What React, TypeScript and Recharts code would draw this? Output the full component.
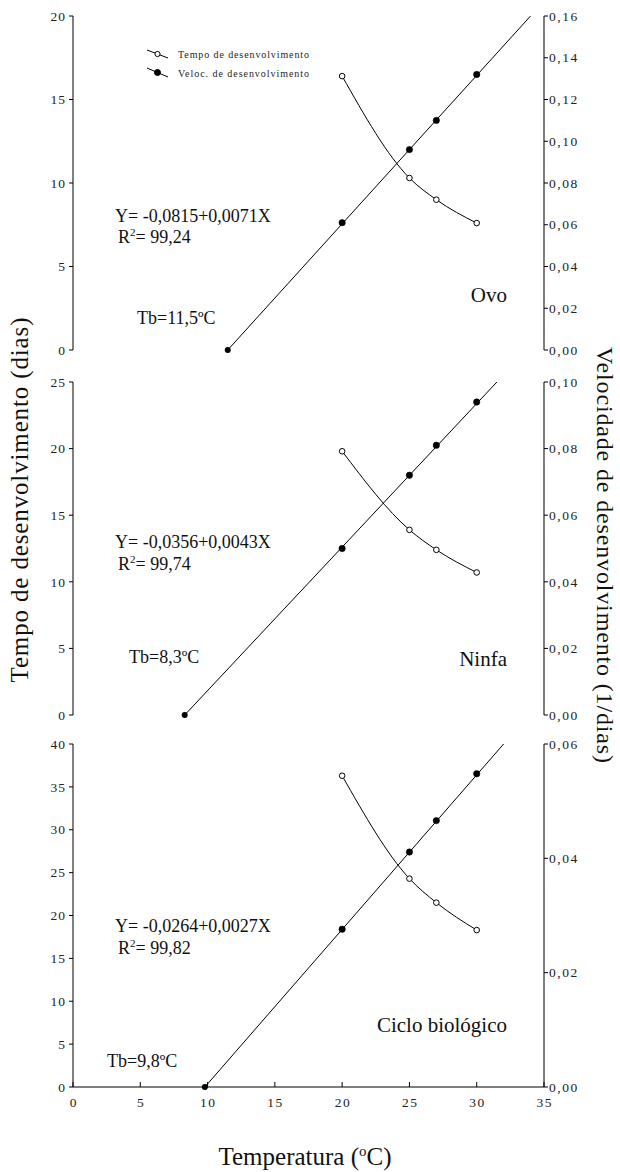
import React from 'react';
import { ComposedChart, Line, XAxis, YAxis } from 'recharts';

// ---- data ----
const temperatures = [20, 25, 27, 30];
const xTicks = [0, 5, 10, 15, 20, 25, 30, 35];

const ovoTempo = [16.4, 10.3, 9.0, 7.6];
const ovoVeloc = [0.061, 0.096, 0.110, 0.132];
const ovoFitX = [11.5, 34.0];
const ovoFitY = [0, 0.16];
const ovoLeftTicks = [0, 5, 10, 15, 20];
const ovoRightTicks = [0, 0.02, 0.04, 0.06, 0.08, 0.1, 0.12, 0.14, 0.16];

const ninfaTempo = [19.8, 13.9, 12.4, 10.7];
const ninfaVeloc = [0.050, 0.072, 0.081, 0.094];
const ninfaFitX = [8.3, 31.5];
const ninfaFitY = [0, 0.1];
const ninfaLeftTicks = [0, 5, 10, 15, 20, 25];
const ninfaRightTicks = [0, 0.02, 0.04, 0.06, 0.08, 0.1];

const cicloTempo = [36.3, 24.3, 21.5, 18.3];
const cicloVeloc = [0.0276, 0.0411, 0.0466, 0.0548];
const cicloFitX = [9.8, 32.0];
const cicloFitY = [0, 0.06];
const cicloLeftTicks = [0, 5, 10, 15, 20, 25, 30, 35, 40];
const cicloRightTicks = [0, 0.02, 0.04, 0.06];

const FONT = '"Liberation Serif", "Times New Roman", serif';

const fmtComma = (v: number) => v.toFixed(2).replace('.', ',');
const fmtInt = (v: number) => String(v);

const makeTick = (fmt: (v: number) => string, dy: string, ls: number) => (props: any) => {
  const { x, y, payload, textAnchor } = props;
  const shift = textAnchor === 'end' ? ls : textAnchor === 'middle' ? ls / 2 : 0;
  return (
    <text
      x={x + shift}
      y={y}
      dy={dy}
      textAnchor={textAnchor}
      fontFamily={FONT}
      fontSize={13.5}
      fill="#222"
      letterSpacing={ls}
    >
      {fmt(payload.value)}
    </text>
  );
};

type PanelProps = {
  top: number;
  height: number;
  marginTop: number;
  marginBottom: number;
  tempo: number[];
  veloc: number[];
  fitX: number[];
  fitY: number[];
  leftTicks: number[];
  rightTicks: number[];
  showXLabels: boolean;
  frameColor: string;
  frameWidth: number;
};

function Panel(p: PanelProps) {
  const tempoData = temperatures.map((x, i) => ({ x, t: p.tempo[i] }));
  const velocData = temperatures.map((x, i) => ({ x, v: p.veloc[i] }));
  const fitData = p.fitX.map((x, i) => ({ x, v: p.fitY[i] }));
  const leftMax = p.leftTicks[p.leftTicks.length - 1];
  const rightMax = p.rightTicks[p.rightTicks.length - 1];
  const fitDot = (props: any) =>
    props.index === 0 ? (
      <circle key={`fd-${props.index}`} cx={props.cx} cy={props.cy} r={3} fill="#000" />
    ) : (
      <g key={`fd-${props.index}`} />
    );
  return (
    <div style={{ position: 'absolute', left: 0, top: p.top }}>
      <ComposedChart
        width={620}
        height={p.height}
        margin={{ top: p.marginTop, right: 0, bottom: p.marginBottom, left: 0 }}
      >
        <XAxis
          xAxisId="b"
          type="number"
          dataKey="x"
          domain={[0, 35]}
          ticks={xTicks}
          orientation="bottom"
          height={p.showXLabels ? 30 : 0}
          tickSize={-5}
          tickMargin={p.showXLabels ? 15 : 0}
          tick={p.showXLabels ? makeTick(fmtInt, '0.71em', 1.5) : false}
          axisLine={{ stroke: '#000', strokeWidth: 1 }}
          tickLine={{ stroke: '#000' }}
        />
        <XAxis
          xAxisId="t"
          type="number"
          dataKey="x"
          domain={[0, 35]}
          ticks={xTicks}
          orientation="top"
          height={0}
          tickSize={-5}
          tick={false}
          axisLine={{ stroke: p.frameColor, strokeWidth: p.frameWidth }}
          tickLine={{ stroke: '#000' }}
        />
        <YAxis
          yAxisId="l"
          orientation="left"
          width={73}
          domain={[0, leftMax]}
          ticks={p.leftTicks}
          tickSize={4}
          tickMargin={4}
          tick={makeTick(fmtInt, '0.35em', 1)}
          axisLine={{ stroke: '#000' }}
          tickLine={{ stroke: '#000' }}
        />
        <YAxis
          yAxisId="r"
          orientation="right"
          width={76}
          domain={[0, rightMax]}
          ticks={p.rightTicks}
          tickSize={4}
          tickMargin={1}
          tick={makeTick(fmtComma, '0.35em', 1.5)}
          axisLine={{ stroke: p.frameColor, strokeWidth: p.frameWidth }}
          tickLine={{ stroke: '#000' }}
        />
        <Line
          xAxisId="b"
          yAxisId="r"
          data={fitData}
          dataKey="v"
          type="linear"
          stroke="#000"
          strokeWidth={1}
          dot={fitDot}
          activeDot={false}
          isAnimationActive={false}
        />
        <Line
          xAxisId="b"
          yAxisId="l"
          data={tempoData}
          dataKey="t"
          type="monotone"
          stroke="#000"
          strokeWidth={1}
          dot={{ r: 2.8, fill: '#fff', stroke: '#000', strokeWidth: 1 }}
          activeDot={false}
          isAnimationActive={false}
        />
        <Line
          xAxisId="b"
          yAxisId="r"
          data={velocData}
          dataKey="v"
          type="linear"
          stroke="none"
          dot={{ r: 3.2, fill: '#000', stroke: '#000', strokeWidth: 0.5 }}
          activeDot={false}
          isAnimationActive={false}
        />
      </ComposedChart>
    </div>
  );
}

function Annot({ x, y, eq, r2, rx, ry, tb, tbx, tby, name, nx, ny }: any) {
  return (
    <g fontFamily={FONT} fill="#111">
      <text x={x} y={y} fontSize={18}>{eq}</text>
      <text x={rx} y={ry} fontSize={18}>
        R<tspan dy={-7} fontSize={11}>2</tspan>
        <tspan dy={7}>= {r2}</tspan>
      </text>
      <text x={tbx} y={tby} fontSize={18}>{tb}</text>
      <text x={nx} y={ny} fontSize={21} textAnchor="end">{name}</text>
    </g>
  );
}

function Overlay() {
  return (
    <svg
      width={620}
      height={1172}
      style={{ position: 'absolute', left: 0, top: 0, pointerEvents: 'none' }}
    >
      {/* legend */}
      <g stroke="#000" strokeWidth={1}>
        <line x1={147} y1={50} x2={168} y2={58} />
        <circle cx={157.5} cy={54} r={2.6} fill="#fff" />
        <line x1={147} y1={68} x2={168} y2={77} />
        <circle cx={157.5} cy={72.5} r={3} fill="#000" />
      </g>
      <g fontFamily={FONT} fontSize={10} fill="#222">
        <text x={178} y={58} textLength={131} lengthAdjust="spacing">Tempo de desenvolvimento</text>
        <text x={178} y={77} textLength={131} lengthAdjust="spacing">Veloc. de desenvolvimento</text>
      </g>

      <Annot x={115} y={222} eq="Y= -0,0815+0,0071X" rx={118} ry={243} r2="99,24"
        tb="Tb=11,5ºC" tbx={137} tby={324} name="Ovo" nx={507} ny={302} />
      <Annot x={115} y={548} eq="Y= -0,0356+0,0043X" rx={118} ry={570} r2="99,74"
        tb="Tb=8,3ºC" tbx={129} tby={663} name="Ninfa" nx={507} ny={666} />
      <Annot x={115} y={932} eq="Y= -0,0264+0,0027X" rx={118} ry={954} r2="99,82"
        tb="Tb=9,8ºC" tbx={107} tby={1067} name="Ciclo biológico" nx={507} ny={1032} />

      {/* axis titles */}
      <g fontFamily={FONT} fill="#111">
        <text x={28} y={500} fontSize={25} textAnchor="middle" transform="rotate(-90, 28, 500)"
          textLength={365} lengthAdjust="spacing">Tempo de desenvolvimento (dias)</text>
        <text x={597} y={555} fontSize={24} textAnchor="middle" transform="rotate(90, 597, 555)"
          textLength={416} lengthAdjust="spacing">Velocidade de desenvolvimento (1/dias)</text>
        <text x={305} y={1165} fontSize={25} textAnchor="middle">
          Temperatura (<tspan dy={-9} fontSize={15}>o</tspan><tspan dy={9}>C)</tspan>
        </text>
      </g>
    </svg>
  );
}

export default function App() {
  return (
    <div style={{ position: 'absolute', left: 0, top: 0, width: 620, height: 1172, background: '#fff' }}>
      <Panel top={0} height={360} marginTop={16} marginBottom={10}
        tempo={ovoTempo} veloc={ovoVeloc} fitX={ovoFitX} fitY={ovoFitY}
        leftTicks={ovoLeftTicks} rightTicks={ovoRightTicks} showXLabels={false}
        frameColor="#555" frameWidth={1.5} />
      <Panel top={360} height={365} marginTop={22} marginBottom={10}
        tempo={ninfaTempo} veloc={ninfaVeloc} fitX={ninfaFitX} fitY={ninfaFitY}
        leftTicks={ninfaLeftTicks} rightTicks={ninfaRightTicks} showXLabels={false}
        frameColor="#555" frameWidth={1.5} />
      <Panel top={725} height={447} marginTop={19} marginBottom={55}
        tempo={cicloTempo} veloc={cicloVeloc} fitX={cicloFitX} fitY={cicloFitY}
        leftTicks={cicloLeftTicks} rightTicks={cicloRightTicks} showXLabels={true}
        frameColor="#000" frameWidth={1} />
      <Overlay />
    </div>
  );
}
